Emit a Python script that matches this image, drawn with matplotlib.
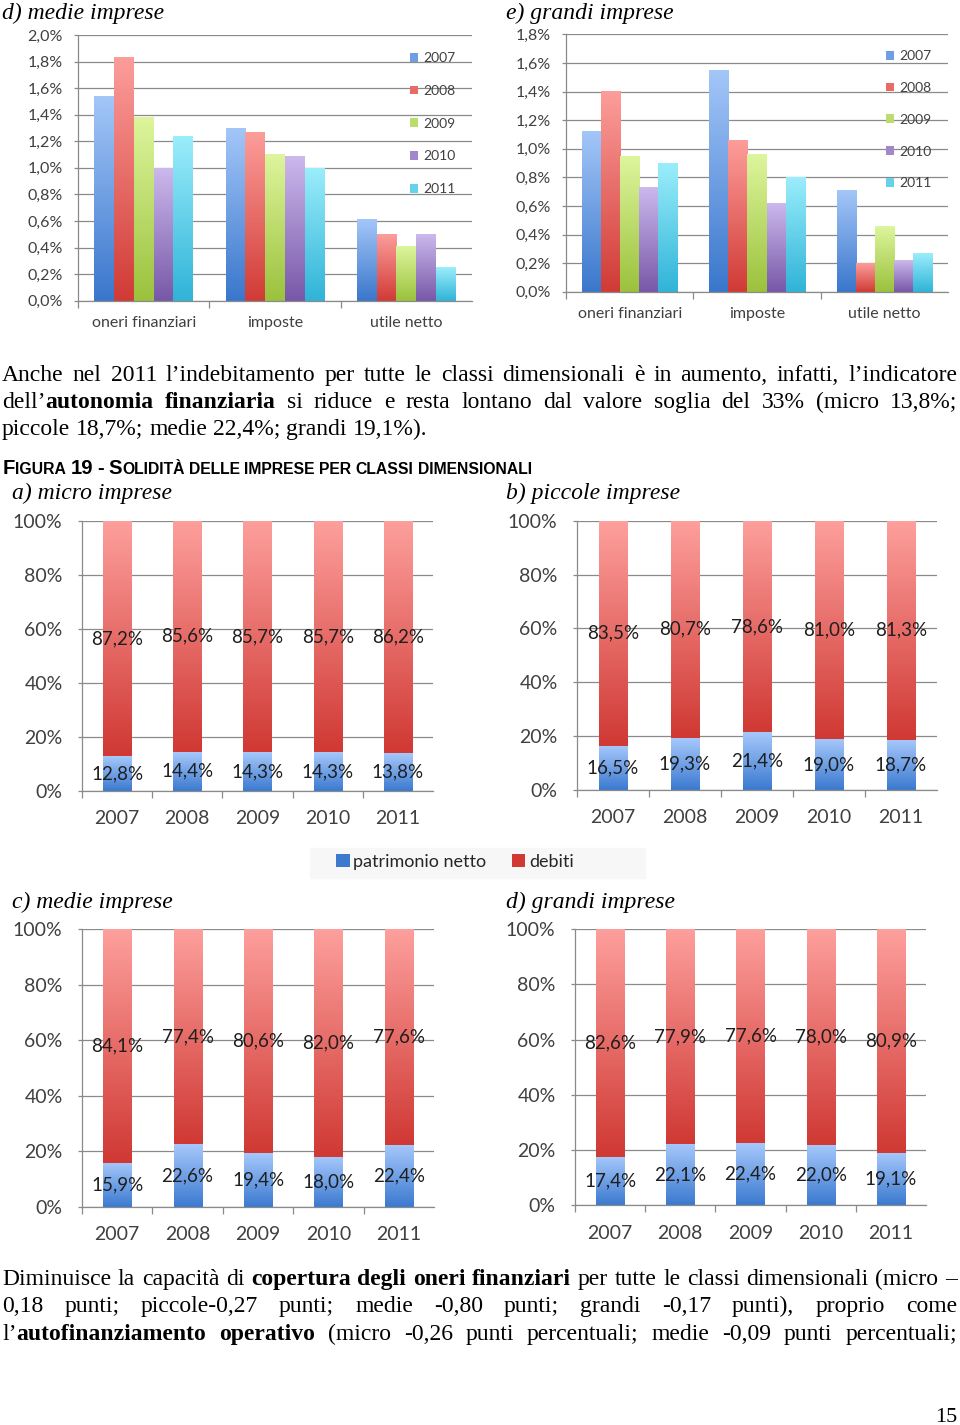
"""
Pagina 15 - indicatori per classi dimensionali e Figura 19 (solidita delle imprese).
"""
import numpy as np
import matplotlib
matplotlib.use('Agg')
import matplotlib.pyplot as plt
from matplotlib.colors import to_rgb
from matplotlib.patches import Patch, Rectangle
from matplotlib.ticker import FuncFormatter

# ---- dati ------------------------------------------------------------------
anni = ['2007', '2008', '2009', '2010', '2011']
voci = ['oneri finanziari', 'imposte', 'utile netto']

# incidenza % (righe = anni, colonne = voci)
medie_voci = [
    [1.54, 1.30, 0.61],
    [1.83, 1.27, 0.50],
    [1.38, 1.10, 0.41],
    [1.00, 1.09, 0.50],
    [1.24, 1.00, 0.25],
]
grandi_voci = [
    [1.12, 1.55, 0.71],
    [1.40, 1.06, 0.20],
    [0.95, 0.96, 0.46],
    [0.73, 0.62, 0.22],
    [0.90, 0.80, 0.27],
]

# solidita: patrimonio netto / debiti (%)
pn_micro = [12.8, 14.4, 14.3, 14.3, 13.8]
deb_micro = [87.2, 85.6, 85.7, 85.7, 86.2]
pn_piccole = [16.5, 19.3, 21.4, 19.0, 18.7]
deb_piccole = [83.5, 80.7, 78.6, 81.0, 81.3]
pn_medie = [15.9, 22.6, 19.4, 18.0, 22.4]
deb_medie = [84.1, 77.4, 80.6, 82.0, 77.6]
pn_grandi = [17.4, 22.1, 22.4, 22.0, 19.1]
deb_grandi = [82.6, 77.9, 77.6, 78.0, 80.9]

# colori (chiaro in alto, scuro in basso)
COL_ANNI = [('#a3c6f8', '#3a77cc'), ('#fc9d9a', '#d13b36'), ('#ddf59c', '#9bc23d'),
            ('#cbb8ec', '#7858a8'), ('#9aedfb', '#30b4d8')]
COL_PN = ('#a6c8fb', '#3c7ad0')
COL_DEB = ('#fd9f9c', '#d03934')
GRIGIO = '#8a8a8a'
TESTO = '#404040'
SERIF = 'Liberation Serif'

plt.rcParams['font.family'] = 'Lato'

W, H = 960, 1425
fig = plt.figure(figsize=(W / 100, H / 100), dpi=100)
renderer = fig.canvas.get_renderer()


def fy(y):
    return 1 - y / H


def add_ax(left, top, right, bottom):
    return fig.add_axes([left / W, 1 - bottom / H, (right - left) / W, (bottom - top) / H])


def pct(v, nd):
    return '{:.{}f}%'.format(v, nd).replace('.', ',')


def mix(c1, c2):
    return tuple((np.array(to_rgb(c1)) + np.array(to_rgb(c2))) / 2)


def grad_bar(ax, x, h, width, c_top, c_bot, bottom=0):
    bars = ax.bar(x, h, width, bottom=bottom, color='none', linewidth=0)
    g = np.linspace(0, 1, 64)[:, None, None]
    rgb = (1 - g) * np.array(to_rgb(c_bot)) + g * np.array(to_rgb(c_top))
    for p in bars.patches:
        x0, y0 = p.get_x(), p.get_y()
        ax.imshow(rgb, extent=(x0, x0 + p.get_width(), y0, y0 + p.get_height()),
                  origin='lower', aspect='auto', zorder=2, interpolation='bilinear')
    return bars


def stile(ax, ypad, xpad, ysize, xsize, ylen):
    for s in ['top', 'right']:
        ax.spines[s].set_visible(False)
    for s in ['left', 'bottom']:
        ax.spines[s].set_color(GRIGIO)
        ax.spines[s].set_linewidth(0.9)
    ax.grid(axis='y', color=GRIGIO, lw=0.9)
    ax.set_axisbelow(True)
    ax.tick_params(axis='y', length=ylen, width=0.9, color=GRIGIO, labelcolor=TESTO,
                   pad=ypad, labelsize=ysize)
    ax.tick_params(axis='x', which='major', length=0, pad=xpad, labelcolor=TESTO,
                   labelsize=xsize)
    ax.tick_params(axis='x', which='minor', length=5, width=0.9, color=GRIGIO)


def grafico_voci(box, dati, ymax, leg_xy, leg_sp):
    ax = add_ax(*box)
    w = 0.15
    x = np.arange(len(voci))
    for i in range(len(anni)):
        grad_bar(ax, x + (i - 2) * w, dati[i], w, *COL_ANNI[i])
    ax.set_xlim(-0.5, len(voci) - 0.5)
    ax.set_ylim(0, ymax)
    ax.set_yticks(np.arange(0, ymax + 0.001, 0.2))
    ax.yaxis.set_major_formatter(FuncFormatter(lambda v, p: pct(v, 1)))
    ax.set_xticks(x)
    ax.set_xticklabels(voci)
    ax.set_xticks(np.arange(-0.5, len(voci) - 1, 1), minor=True)
    stile(ax, 8, 11, 11.5, 11.5, 3)
    handles = [Patch(facecolor=mix(*c)) for c in COL_ANNI]
    ax.legend(handles, anni, loc='upper left', bbox_to_anchor=(leg_xy[0] / W, fy(leg_xy[1])),
              bbox_transform=fig.transFigure, frameon=False, fontsize=10, labelcolor=TESTO,
              handlelength=0.6, handleheight=0.6, handletextpad=0.35,
              labelspacing=leg_sp, borderpad=0, borderaxespad=0)
    return ax


def grafico_solidita(box, pn, deb):
    ax = add_ax(*box)
    x = np.arange(len(anni))
    grad_bar(ax, x, pn, 0.4, *COL_PN)
    grad_bar(ax, x, deb, 0.4, *COL_DEB, bottom=pn)
    for xi, p, d in zip(x, pn, deb):
        ax.text(xi, p / 2, pct(p, 1), ha='center', va='center', size=13.5, color='#1e1e1e',
                zorder=4)
        ax.text(xi, p + d / 2, pct(d, 1), ha='center', va='center', size=13.5, color='#1e1e1e',
                zorder=4)
    ax.set_xlim(-0.5, len(anni) - 0.5)
    ax.set_ylim(0, 100)
    ax.set_yticks(np.arange(0, 101, 20))
    ax.yaxis.set_major_formatter(FuncFormatter(lambda v, p: '{:.0f}%'.format(v)))
    ax.set_xticks(x)
    ax.set_xticklabels(anni)
    ax.set_xticks(np.arange(-0.5, len(anni) - 1, 1), minor=True)
    stile(ax, 11, 14, 14, 14, 3)
    return ax


def larghezza(text, size, weight='normal', family=SERIF):
    t = fig.text(0, 0, text, family=family, size=size, weight=weight)
    w = t.get_window_extent(renderer).width
    t.remove()
    return w


def tokenize(line):
    parti = line.split('**')
    tokens = [[]]
    for i, parte in enumerate(parti):
        bold = i % 2 == 1
        for j, w in enumerate(parte.split(' ')):
            if j > 0:
                tokens.append([])
            if w:
                tokens[-1].append((w, bold))
    return [t for t in tokens if t]


def paragrafo(righe, baselines, giustifica, size, x0=2, x1=957):
    toks = [tokenize(r) for r in righe]
    spazio = 0.25 * size * 100 / 72
    # riduce il corpo finche' le righe giustificate entrano nella colonna
    for tk, g in zip(toks, giustifica):
        if not g:
            continue
        nat = sum(larghezza(s, size, 'bold' if b else 'normal') for t in tk for s, b in t)
        nat += spazio * (len(tk) - 1)
        if nat > (x1 - x0):
            size = size * (x1 - x0) / nat * 0.995
            spazio = 0.25 * size * 100 / 72
    for tk, base, g in zip(toks, baselines, giustifica):
        larg = [[larghezza(s, size, 'bold' if b else 'normal') for s, b in t] for t in tk]
        tot = sum(sum(l) for l in larg)
        gap = (x1 - x0 - tot) / (len(tk) - 1) if g else spazio
        x = x0
        for t, l in zip(tk, larg):
            for (s, b), ws in zip(t, l):
                fig.text(x / W, fy(base), s, family=SERIF, size=size, va='baseline',
                         weight='bold' if b else 'normal')
                x += ws
            x += gap


# ---- grafici in alto -------------------------------------------------------
fig.text(2 / W, fy(13), 'd) medie imprese', family=SERIF, style='italic', size=17, va='center')
fig.text(506 / W, fy(13), 'e) grandi imprese', family=SERIF, style='italic', size=17,
         va='center')
grafico_voci((78, 35, 472, 300.7), medie_voci, 2.0, (410, 52), 1.5)
grafico_voci((566, 34.3, 948, 291.7), grandi_voci, 1.8, (886, 50), 1.43)

# ---- testo ------------------------------------------------------------------
paragrafo(["Anche nel 2011 l\u2019indebitamento per tutte le classi dimensionali è in aumento, "
           "infatti, l\u2019indicatore",
           "dell\u2019**autonomia finanziaria** si riduce e resta lontano dal valore soglia del 33% "
           "(micro 13,8%;",
           "piccole 18,7%; medie 22,4%; grandi 19,1%)."],
          [381, 408, 435], [True, True, False], 17)

# titolo figura in maiuscoletto
x = 3
for parola in [[('F', 14.6), ('IGURA', 11.3)], [('19', 14.6)], [('-', 14.6)],
               [('S', 14.6), ('OLIDITÀ', 11.3)], [('DELLE', 11.3)], [('IMPRESE', 11.3)],
               [('PER', 11.3)], [('CLASSI', 11.3)], [('DIMENSIONALI', 11.3)]]:
    for s, sz in parola:
        fig.text(x / W, fy(474), s, family='Liberation Sans', weight='bold', size=sz,
                 va='baseline')
        x += larghezza(s, sz, 'bold', 'Liberation Sans')
    x += 0.278 * 11.3 * 100 / 72

# ---- figura 19 --------------------------------------------------------------
titoli = [('a) micro imprese', 12, 493), ('b) piccole imprese', 506, 493),
          ('c) medie imprese', 12, 902), ('d) grandi imprese', 506, 902)]
for t, tx, ty in titoli:
    fig.text(tx / W, fy(ty), t, family=SERIF, style='italic', size=17, va='center')

grafico_solidita((82, 520.7, 433, 790.7), pn_micro, deb_micro)
grafico_solidita((577, 520.7, 937, 790), pn_piccole, deb_piccole)
grafico_solidita((82, 929, 434, 1207), pn_medie, deb_medie)
grafico_solidita((575, 929, 926, 1205.3), pn_grandi, deb_grandi)

fig.patches.append(Rectangle((310 / W, fy(878)), 335 / W, 30 / H, transform=fig.transFigure,
                             color='#f7f7f7', zorder=0))
fig.legend([Patch(facecolor=COL_PN[1]), Patch(facecolor=COL_DEB[1])],
           ['patrimonio netto', 'debiti'], loc='center', ncol=2,
           bbox_to_anchor=(455 / W, fy(862)), frameon=False, fontsize=13,
           labelcolor='#262626', handlelength=0.75, handleheight=0.75, handletextpad=0.2,
           columnspacing=1.4)

paragrafo(["Diminuisce la capacità di **copertura degli oneri finanziari** per tutte le classi "
           "dimensionali (micro \u2013",
           "0,18 punti; piccole-0,27 punti; medie -0,80 punti; grandi -0,17 punti), proprio come",
           "l\u2019**autofinanziamento operativo** (micro -0,26 punti percentuali; medie -0,09 "
           "punti percentuali;"],
          [1285, 1312, 1340], [True, True, True], 17)

fig.text(957 / W, fy(1421.7), '15', family=SERIF, size=16, ha='right', va='baseline')

fig.savefig('out.png', dpi=100)
